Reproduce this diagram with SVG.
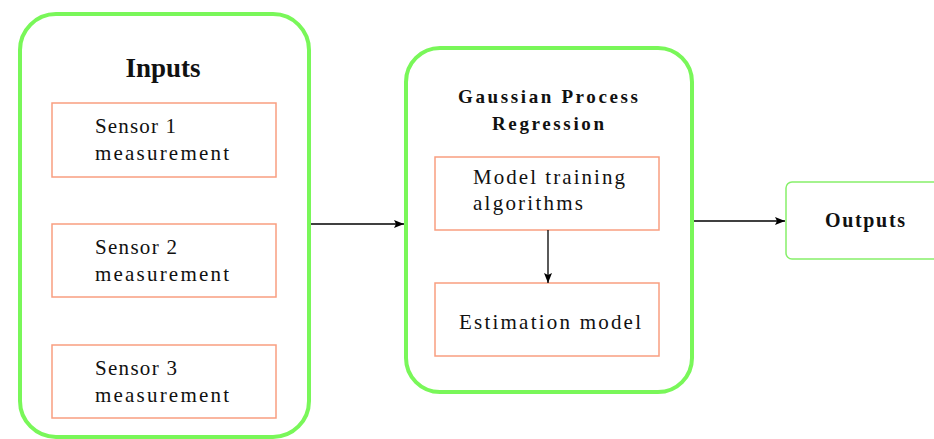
<svg xmlns="http://www.w3.org/2000/svg" width="934" height="439" viewBox="0 0 934 439">
<style>
.grp{fill:#fff;stroke:#79F759;stroke-width:4}
.box{fill:#fff;stroke:#F99E80;stroke-width:1.5}
.out{fill:#fff;stroke:#86F06A;stroke-width:1.5}
text{font-family:"Liberation Serif","DejaVu Serif",serif;fill:#111}
.t{font-size:21px}
.h{font-weight:bold}
.c{fill:none;stroke:#000;stroke-width:1.3}
</style>
<defs>
<marker id="ah" viewBox="0 0 10 10" refX="10" refY="5" markerWidth="13" markerHeight="10" markerUnits="userSpaceOnUse" orient="auto">
<path d="M0,1 L10,5 L0,9 L2,5 Z" fill="#000"/>
</marker>
</defs>
<rect width="934" height="439" fill="#fff"/>
<g id="inputs">
<rect class="grp" x="20" y="14" width="289" height="423" rx="36"/>
<text class="h" x="163" y="77" font-size="27" text-anchor="middle">Inputs</text>
</g>
<g id="sensor1">
<rect class="box" x="52" y="103" width="224" height="74"/>
<text class="t" x="95" y="133" textLength="81" lengthAdjust="spacing">Sensor 1</text>
<text class="t" x="95" y="160" textLength="134" lengthAdjust="spacing">measurement</text>
</g>
<g id="sensor2">
<rect class="box" x="52" y="224" width="224" height="73"/>
<text class="t" x="95" y="254" textLength="82" lengthAdjust="spacing">Sensor 2</text>
<text class="t" x="95" y="281" textLength="134" lengthAdjust="spacing">measurement</text>
</g>
<g id="sensor3">
<rect class="box" x="52" y="345" width="224" height="73"/>
<text class="t" x="95" y="375" textLength="82" lengthAdjust="spacing">Sensor 3</text>
<text class="t" x="95" y="402" textLength="134" lengthAdjust="spacing">measurement</text>
</g>
<g id="gpr">
<rect class="grp" x="406" y="48" width="286" height="344" rx="34"/>
<text class="h" x="548" y="103" font-size="19" text-anchor="middle" textLength="180" lengthAdjust="spacing">Gaussian Process</text>
<text class="h" x="548" y="130" font-size="19" text-anchor="middle" textLength="112" lengthAdjust="spacing">Regression</text>
</g>
<g id="training">
<rect class="box" x="435" y="157" width="224" height="73"/>
<text class="t" x="473" y="184" textLength="152" lengthAdjust="spacing">Model training</text>
<text class="t" x="473" y="210" textLength="110" lengthAdjust="spacing">algorithms</text>
</g>
<g id="estimation">
<rect class="box" x="435" y="283" width="224" height="73"/>
<text class="t" x="459" y="329" textLength="182" lengthAdjust="spacing">Estimation model</text>
</g>
<g id="outputs">
<rect class="out" x="786" y="182" width="160" height="77" rx="6"/>
<text class="h" x="825" y="227" font-size="20" textLength="80" lengthAdjust="spacing">Outputs</text>
</g>
<g id="connectors">
<line class="c" x1="311" y1="224" x2="404" y2="224" marker-end="url(#ah)"/>
<line class="c" x1="548" y1="230" x2="548" y2="283" marker-end="url(#ah)"/>
<line class="c" x1="694" y1="221" x2="785" y2="221" marker-end="url(#ah)"/>
</g>
</svg>
